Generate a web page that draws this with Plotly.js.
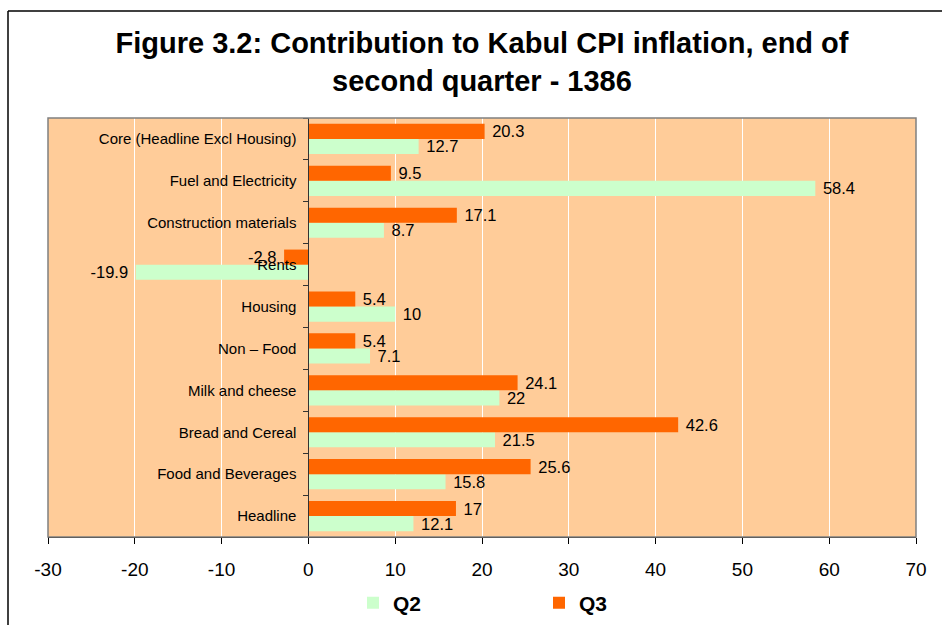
<!DOCTYPE html>
<html>
<head>
<meta charset="utf-8">
<script src="https://cdn.plot.ly/plotly-3.0.1.min.js"></script>
<style>html,body{margin:0;padding:0;background:#fff;}#chart{width:942px;height:625px;}</style>
</head>
<body>
<div id="chart"></div>
<script>
// Categories listed bottom to top as drawn
var categories = ["Headline", "Food and Beverages", "Bread and Cereal", "Milk and cheese", "Non \u2013 Food", "Housing", "Rents", "Construction materials", "Fuel and Electricity", "Core (Headline Excl Housing)"];
var q2Values = [12.1, 15.8, 21.5, 22, 7.1, 10, -19.9, 8.7, 58.4, 12.7];
var q3Values = [17, 25.6, 42.6, 24.1, 5.4, 5.4, -2.8, 17.1, 9.5, 20.3];
var xTicks = [-30, -20, -10, 0, 10, 20, 30, 40, 50, 60, 70];

var FONT = "Liberation Sans, Arial, sans-serif";
var W = 942, H = 625, ML = 48, MR = 26, MT = 118, MB = 88;
var PW = W - ML - MR, PH = H - MT - MB;
function px(x){ return (x - ML) / PW; }
function py(y){ return (H - MB - y) / PH; }
function lab(v){ return v < 0 ? String(v) + "\u00a0" : "\u00a0" + String(v); }

var traces = [
  {type: "bar", orientation: "h", name: "Q2", y: categories, x: q2Values,
   text: q2Values.map(lab), textposition: "outside", constraintext: "none", cliponaxis: false,
   textfont: {family: FONT, size: 16.5, color: "#000"},
   marker: {color: "#CCFFCC"}, hoverinfo: "none"},
  {type: "bar", orientation: "h", name: "Q3", y: categories, x: q3Values,
   text: q3Values.map(lab), textposition: "outside", constraintext: "none", cliponaxis: false,
   textfont: {family: FONT, size: 16.5, color: "#000"},
   marker: {color: "#FF6600"}, hoverinfo: "none"}
];

var layout = {
  width: W, height: H,
  margin: {l: ML, r: MR, t: MT, b: MB, pad: 0, autoexpand: false},
  paper_bgcolor: "#FFFFFF",
  plot_bgcolor: "#FFCC99",
  font: {family: FONT, color: "#000"},
  title: {
    text: "<b>Figure 3.2: Contribution to Kabul CPI inflation, end of<br>second quarter - 1386</b>",
    font: {family: FONT, size: 29, color: "#000"},
    x: 0.5, xref: "paper", xanchor: "center",
    y: 1 - 53 / H, yref: "container", yanchor: "top"
  },
  barmode: "group",
  bargap: 0.28,
  bargroupgap: 0,
  xaxis: {
    range: [-30, 70], tickvals: xTicks, ticktext: xTicks.map(String),
    showgrid: true, gridcolor: "#FFFFFF", gridwidth: 1,
    zeroline: false, showline: true, linecolor: "#000", linewidth: 1,
    ticks: "outside", ticklen: 6, tickcolor: "#000", tickwidth: 1,
    ticklabelstandoff: 9,
    tickfont: {family: FONT, size: 19, color: "#000"},
    fixedrange: true
  },
  yaxis: {
    type: "category", anchor: "free", position: 0.3,
    showgrid: false, zeroline: false, showline: true, linecolor: "#333", linewidth: 1,
    ticks: "outside", ticklen: 5, tickcolor: "#333", tickson: "boundaries",
    ticklabelstandoff: 9,
    tickfont: {family: FONT, size: 15, color: "#000"},
    fixedrange: true
  },
  showlegend: true,
  legend: {
    orientation: "h", x: px(353), xanchor: "left",
    yref: "container", y: 1 - 603 / H, yanchor: "middle",
    font: {family: FONT, size: 21, color: "#000", weight: "bold"},
    entrywidth: 141, entrywidthmode: "pixels",
    bgcolor: "rgba(0,0,0,0)"
  },
  shapes: [
    {type: "rect", xref: "paper", yref: "paper", x0: 0, x1: 1, y0: 0, y1: 1,
     line: {color: "#808080", width: 1.5}, fillcolor: "rgba(0,0,0,0)", layer: "above"},
    {type: "line", xref: "paper", yref: "paper", x0: px(8), x1: px(960), y0: py(11), y1: py(11),
     line: {color: "#000", width: 1.5}},
    {type: "line", xref: "paper", yref: "paper", x0: px(8), x1: px(8), y0: py(11), y1: py(640),
     line: {color: "#000", width: 1.5}}
  ]
};

Plotly.newPlot("chart", traces, layout, {displayModeBar: false, staticPlot: true});
</script>
</body>
</html>
